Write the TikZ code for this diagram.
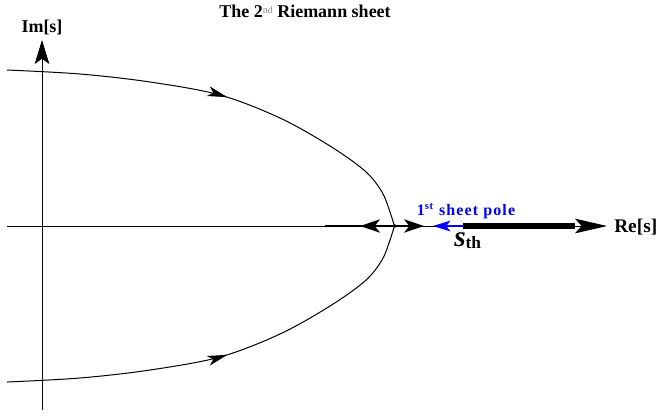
\documentclass[tikz,border=0pt]{standalone}
\usepackage{fontspec}
\setmainfont{Liberation Serif}
\usetikzlibrary{arrows.meta,decorations.markings}
\begin{document}
\begin{tikzpicture}[x=0.75pt,y=-0.75pt,
  axisline/.style={line width=0.7pt,black},
  curveline/.style={line width=0.75pt,black},
  bigtip/.style={-{Stealth[length=24pt,width=11pt,inset=5pt]}},
  imtip/.style={-{Stealth[length=18pt,width=11pt,inset=4pt]}},
  midtip/.style={-{Stealth[length=15pt,width=10pt,inset=4pt]}},
  curvetip/.style={postaction={decorate},decoration={markings,
     mark=at position 0.5 with {\arrow{Stealth[length=15pt,width=7.5pt,inset=4pt]}}}},
  lab/.style={font=\bfseries, inner sep=0pt}]
\useasboundingbox (0,0) rectangle (659,419);
% axes
\coordinate (rl) at (7,226);
\coordinate (rr) at (607,226);
\coordinate (ib) at (42,410);
\coordinate (it) at (42,40);
\draw[axisline,bigtip] (rl) -- (rr);
\draw[axisline,imtip] (ib) -- (it);
% branch cut
\coordinate (cutA) at (463,226);
\coordinate (cutB) at (575,226);
\draw[line width=3.8pt,black] (cutA) -- (cutB);
% double arrow
\coordinate (dA) at (325,226);
\coordinate (dB) at (424,226);
\coordinate (dL) at (360,226);
\coordinate (dLb) at (382,226);
\draw[line width=1.1pt,midtip] (dA) -- (dB);
\draw[line width=1.1pt,midtip] (dLb) -- (dL);
% blue arrow
\coordinate (bA) at (464,226);
\coordinate (bB) at (433,226);
\draw[blue,line width=1.1pt,-{Stealth[length=13pt,width=8pt,inset=3pt]}] (bA) -- (bB);
% contour
\draw[curveline,curvetip] plot[smooth,tension=0.55] coordinates {(7,70) (80,74) (150,82) (220,95) (280,118) (330,146) (365,171) (382,192) (390,212) (395,228)};
\draw[curveline,curvetip] plot[smooth,tension=0.55] coordinates {(7,382) (80,378) (150,370) (220,357) (280,334) (330,306) (365,281) (382,260) (390,240) (395,224)};
% labels
\node[lab,font=\bfseries\fontsize{13.5}{15}\selectfont] (title) at (305,11)
  {The 2\raisebox{0.5ex}{\textcolor{black!45}{\fontsize{7.5}{8}\selectfont\mdseries nd}} Riemann sheet};
\node[lab,font=\bfseries\fontsize{13.5}{15}\selectfont] (im) at (42,27) {Im[s]};
\node[lab,font=\bfseries\fontsize{14.5}{16}\selectfont,anchor=west] (re) at (614,227) {Re[s]};
\node[lab,blue,font=\bfseries\fontsize{12}{14}\selectfont\addfontfeature{LetterSpace=7}] (pole) at (466,211)
  {1\textsuperscript{st} sheet pole};
\node[lab,anchor=base west] (sth) at (454,246)
  {{\fontsize{22}{23}\selectfont\bfseries\itshape s}\raisebox{-0.35ex}{\fontsize{13}{14}\selectfont\bfseries th}};
\end{tikzpicture}
\end{document}
